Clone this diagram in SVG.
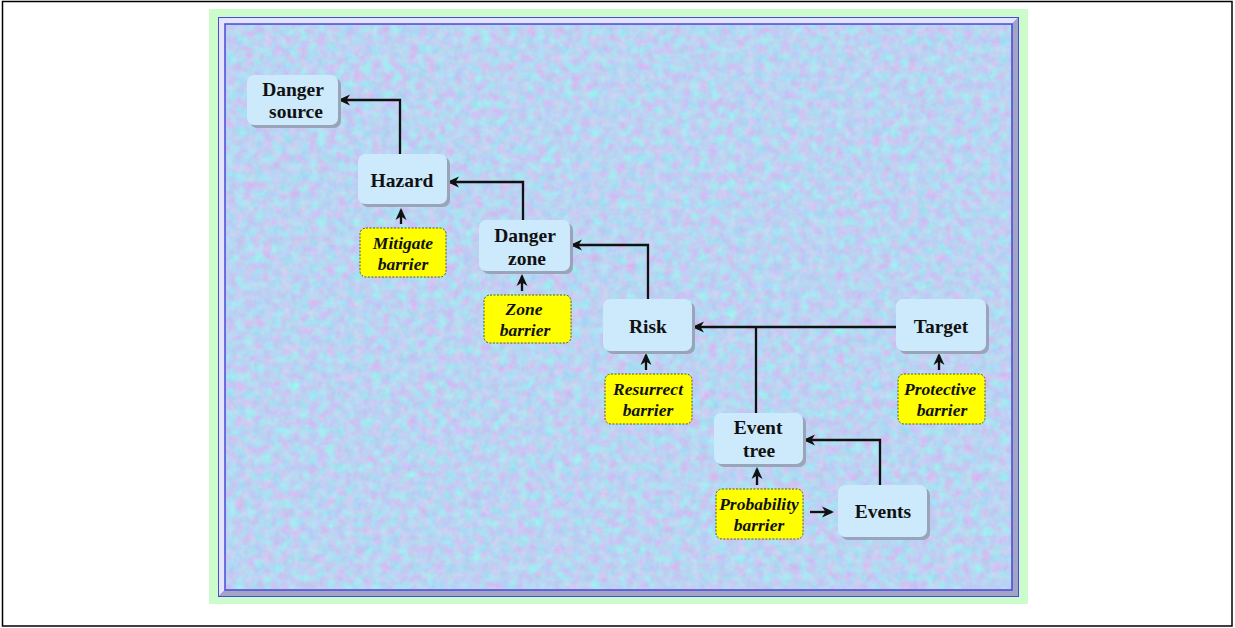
<svg xmlns="http://www.w3.org/2000/svg" width="1235" height="628" viewBox="0 0 1235 628">
<style>
.node rect.bg{fill:#cde9fc;}
.node rect.sh{fill:#9aa4b8;}
.nt{font-family:"Liberation Serif","Times New Roman",serif;font-weight:bold;font-size:19.5px;fill:#111;text-anchor:middle;}
.bar rect{fill:#ffff00;stroke:#55553a;stroke-width:1;stroke-dasharray:2,1.5;}
.bt{font-family:"Liberation Serif","Times New Roman",serif;font-weight:bold;font-style:italic;font-size:17.5px;fill:#111;text-anchor:middle;}
.con path{fill:none;stroke:#111;stroke-width:2.3;marker-end:url(#ah);}
.con path.nm{marker-end:none;}
</style>
<defs>
<marker id="ah" markerWidth="14" markerHeight="14" refX="10" refY="6" orient="auto" markerUnits="userSpaceOnUse">
<path d="M0,0.5 L12,6 L0,11.5 L3.5,6 Z" fill="#111"/>
</marker>
<filter id="tex" x="0" y="0" width="100%" height="100%" color-interpolation-filters="sRGB">
<feTurbulence type="fractalNoise" baseFrequency="0.11" numOctaves="3" seed="7" result="n"/>
<feColorMatrix in="n" type="matrix" values="0.36 0 0 0 0.55  -0.24 0.16 0 0 0.87  0 0 0.06 0 0.92  0 0 0 0 1"/>
</filter>
</defs>
<rect x="0" y="0" width="1235" height="628" fill="#ffffff"/>
<rect x="2.5" y="1.5" width="1229.5" height="624.5" fill="none" stroke="#000" stroke-width="1.5"/>
<rect x="209" y="9" width="819" height="595" fill="#ccfccc"/>
<g id="frame">
<rect x="218" y="17" width="801" height="580" fill="#4a4ad6"/>
<polygon points="219,18 1018,18 1012,24 225,24 225,590 219,596" fill="#e4e4fc"/>
<polygon points="1018,18 1018,596 219,596 225,590 1012,590 1012,24" fill="#a4a4c8"/>
<rect x="225" y="24" width="787" height="566" fill="#bcc8f0" stroke="#4a4ad6" stroke-width="1.5"/>
<rect x="226" y="25" width="785" height="564" filter="url(#tex)"/>
</g>
<g class="con" id="connectors">
<path d="M400,155 V100 H340"/>
<path d="M523,220 V182 H449"/>
<path d="M648,299 V245 H572"/>
<path d="M896,327 H694"/>
<path class="nm" d="M756,413 V327"/>
<path d="M880,485 V440 H805"/>
<path d="M401,224 V210"/>
<path d="M522,291 V276"/>
<path d="M646,370 V355"/>
<path d="M939,370 V355"/>
<path d="M757,485 V469"/>
<path d="M810,512 H832"/>
</g>
<g class="node" id="danger-source"><rect class="sh" x="250" y="78" width="91" height="50" rx="7"/><rect class="bg" x="247" y="75" width="91" height="50" rx="7"/><text class="nt" x="293" y="96">Danger</text><text class="nt" x="296" y="118">source</text></g>
<g class="node" id="hazard"><rect class="sh" x="361" y="157" width="89" height="50" rx="7"/><rect class="bg" x="358" y="154" width="89" height="50" rx="7"/><text class="nt" x="402" y="187">Hazard</text></g>
<g class="node" id="danger-zone"><rect class="sh" x="482" y="223" width="91" height="51" rx="7"/><rect class="bg" x="479" y="220" width="91" height="51" rx="7"/><text class="nt" x="525" y="242">Danger</text><text class="nt" x="527" y="265">zone</text></g>
<g class="node" id="risk"><rect class="sh" x="606" y="302" width="89" height="52" rx="7"/><rect class="bg" x="603" y="299" width="89" height="52" rx="7"/><text class="nt" x="648" y="333">Risk</text></g>
<g class="node" id="target"><rect class="sh" x="899" y="302" width="90" height="52" rx="7"/><rect class="bg" x="896" y="299" width="90" height="52" rx="7"/><text class="nt" x="941" y="333">Target</text></g>
<g class="node" id="event-tree"><rect class="sh" x="717" y="416" width="89" height="51" rx="7"/><rect class="bg" x="714" y="413" width="89" height="51" rx="7"/><text class="nt" x="758" y="434">Event</text><text class="nt" x="759" y="457">tree</text></g>
<g class="node" id="events"><rect class="sh" x="841" y="488" width="89" height="52" rx="7"/><rect class="bg" x="838" y="485" width="89" height="52" rx="7"/><text class="nt" x="883" y="518">Events</text></g>
<g class="bar" id="mitigate-barrier"><rect x="360" y="228" width="86" height="49" rx="6"/><text class="bt" x="403" y="249">Mitigate</text><text class="bt" x="403" y="270">barrier</text></g>
<g class="bar" id="zone-barrier"><rect x="484" y="295" width="87" height="48" rx="6"/><text class="bt" x="524" y="315">Zone</text><text class="bt" x="525" y="336">barrier</text></g>
<g class="bar" id="resurrect-barrier"><rect x="605" y="374" width="87" height="50" rx="6"/><text class="bt" x="648" y="395">Resurrect</text><text class="bt" x="648" y="416">barrier</text></g>
<g class="bar" id="protective-barrier"><rect x="898" y="374" width="87" height="50" rx="6"/><text class="bt" x="940" y="395">Protective</text><text class="bt" x="942" y="416">barrier</text></g>
<g class="bar" id="probability-barrier"><rect x="716" y="489" width="87" height="50" rx="6"/><text class="bt" x="759" y="510">Probability</text><text class="bt" x="759" y="531">barrier</text></g>
</svg>
